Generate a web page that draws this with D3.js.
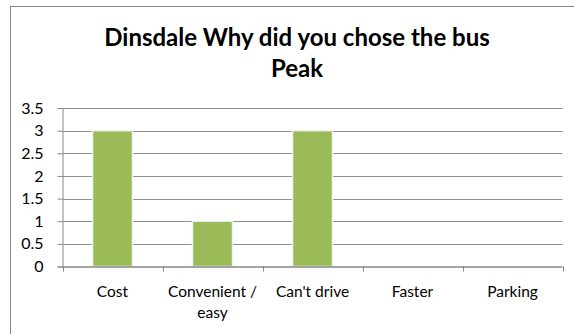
<!DOCTYPE html>
<html><head><meta charset="utf-8">
<script src="https://cdn.jsdelivr.net/npm/d3@7"></script>
<style>html,body{margin:0;padding:0;background:#fff;} svg{display:block;}</style>
</head><body>
<svg id="c" width="574" height="334"></svg>
<script>
const categories = [["Cost"], ["Convenient /", "easy"], ["Can't drive"], ["Faster"], ["Parking"]];
const values = [3, 1, 3, 0, 0];
const yTicks = [0, 0.5, 1, 1.5, 2, 2.5, 3, 3.5];
const yTickLabels = ["0", "0.5", "1", "1.5", "2", "2.5", "3", "3.5"];
const titleLines = ["Dinsdale Why did you chose the bus", "Peak"];

const FONT = "Lato, 'Open Sans', sans-serif";
const svg = d3.select("#c");
const m = {left: 62.5, right: 562.5, top: 108, bottom: 266.5};

// chart border
svg.append("rect").attr("x", 10.5).attr("y", 6.5).attr("width", 700).attr("height", 400)
  .attr("fill", "none").attr("stroke", "#878787").attr("stroke-width", 1);

const keys = categories.map(c => c.join(" "));
const x = d3.scaleBand().domain(keys).range([m.left, m.right]).paddingInner(0.6).paddingOuter(0.3);
const y = d3.scaleLinear().domain([0, 3.5]).range([m.bottom, m.top]);

// gridlines
svg.append("g").selectAll("line").data(yTicks.filter(t => t > 0)).join("line")
  .attr("x1", m.left).attr("x2", m.right)
  .attr("y1", d => Math.round(y(d)) + 0.5).attr("y2", d => Math.round(y(d)) + 0.5)
  .attr("stroke", "#8e8e8e").attr("stroke-width", 1);

// bars
svg.append("g").selectAll("rect").data(values).join("rect")
  .attr("x", (d, i) => x(keys[i]))
  .attr("width", x.bandwidth())
  .attr("y", d => y(d))
  .attr("height", d => y(0) - y(d))
  .attr("fill", "#9bbb59")
  .attr("stroke", d => d > 0 ? "#f2f2f2" : "none").attr("stroke-width", 1.5);

// y axis
const yAxis = d3.axisLeft(y).tickValues(yTicks).tickFormat((d, i) => yTickLabels[i]).tickSize(5).tickPadding(14);
const gy = svg.append("g").attr("transform", `translate(${m.left},0)`).call(yAxis);
gy.select(".domain").attr("stroke", "#868686");
gy.selectAll(".tick line").attr("stroke", "#868686");
gy.selectAll(".tick text").attr("font-family", FONT).attr("font-size", 16).attr("fill", "#000");

// x axis
const xb = d3.scaleBand().domain(keys).range([m.left, m.right]);
const gx = svg.append("g").attr("transform", `translate(0,${m.bottom})`);
gx.append("line").attr("x1", m.left).attr("x2", m.right).attr("y1", 0.5).attr("y2", 0.5).attr("stroke", "#868686").attr("stroke-width", 1.5);
const edges = keys.map(k => xb(k)).concat([m.right]);
gx.selectAll("line.t").data(edges).join("line").attr("class", "t")
  .attr("x1", d => Math.round(d) + 0.5).attr("x2", d => Math.round(d) + 0.5).attr("y1", 0).attr("y2", 5).attr("stroke", "#868686");
const xt = gx.selectAll("text").data(categories).join("text")
  .attr("x", (d, i) => xb(keys[i]) + xb.bandwidth() / 2)
  .attr("y", 30).attr("text-anchor", "middle")
  .attr("font-family", FONT).attr("font-size", 15.5).attr("fill", "#000");
xt.selectAll("tspan").data(d => d).join("tspan")
  .attr("x", function() { return this.parentNode.getAttribute("x"); })
  .attr("dy", (d, i) => i === 0 ? 0 : 21.5).text(d => d);

// title
svg.append("g").selectAll("text").data(titleLines).join("text")
  .attr("x", 297).attr("y", (d, i) => 46 + i * 31)
  .attr("text-anchor", "middle").attr("font-family", FONT).attr("font-weight", "bold")
  .attr("font-size", 24).attr("fill", "#000").text(d => d);
</script>
</body></html>
